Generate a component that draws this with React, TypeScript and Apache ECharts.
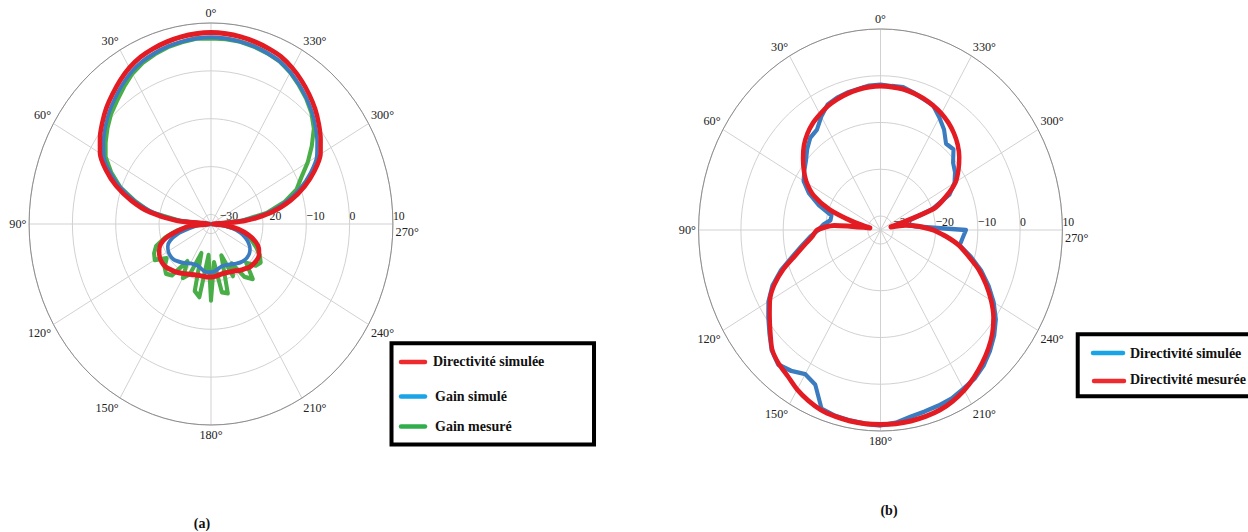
import React, { useEffect, useRef } from 'react';
import * as echarts from 'echarts';

// horizontal squeeze of the (elliptical) polar plots
const S = 0.905;
const W = 1248;
const H = 532;
const FONT = "'Liberation Serif', 'Times New Roman', serif";

// angles in degrees (0 = top, counter-clockwise)
const ANGLES = [
  0, 5, 10, 15, 20, 25, 30, 35, 40, 45, 50, 55, 60, 65, 70, 75, 80, 85,
  90, 95, 100, 105, 110, 115, 120, 125, 130, 135, 140, 145, 150, 155, 160, 165, 170, 175,
  180, 185, 190, 195, 200, 205, 210, 215, 220, 225, 230, 235, 240, 245, 250, 255, 260, 265,
  270, 275, 280, 285, 290, 295, 300, 305, 310, 315, 320, 325, 330, 335, 340, 345, 350, 355,
];

// (a) Directivité simulée
const A_DIR_SIM = [
  8.0, 7.9, 7.7, 7.4, 7.0, 6.5, 5.7, 4.6, 3.4, 2.2, 0.8, -0.7, -2.4, -5.2, -8.7, -12.9, -17.6, -24.0,
  -31.5, -27.0, -24.5, -21.5, -19.6, -18.8, -18.3, -18.1, -18.2, -18.6, -19.0, -19.5, -20.0, -20.4, -20.7, -20.9, -20.9, -20.9,
  -20.9, -21.0, -21.2, -21.3, -21.2, -21.0, -20.7, -20.2, -19.8, -19.3, -19.1, -19.0, -19.2, -19.8, -21.0, -23.0, -25.5, -28.5,
  -31.5, -24.0, -17.8, -13.0, -9.0, -5.6, -2.8, -1.1, 0.5, 2.0, 3.3, 4.5, 5.6, 6.5, 7.0, 7.4, 7.7, 7.9,
];
// (a) Gain simulé
const A_GAIN_SIM = [
  7.0, 6.9, 6.7, 6.4, 6.0, 5.5, 4.7, 3.6, 2.4, 1.2, -0.2, -1.7, -3.4, -6.2, -9.7, -13.9, -18.8, -25.5,
  -32.0, -29.0, -27.0, -24.0, -22.0, -21.0, -20.6, -20.5, -20.6, -21.0, -21.5, -22.0, -22.5, -22.7, -22.8, -22.5, -22.1, -21.9,
  -21.9, -22.1, -22.5, -22.8, -22.8, -22.6, -22.3, -21.9, -21.5, -21.2, -21.1, -21.2, -21.6, -22.4, -23.5, -25.0, -27.0, -30.0,
  -32.0, -25.5, -18.8, -14.0, -10.0, -6.6, -3.8, -2.1, -0.5, 1.0, 2.3, 3.5, 4.6, 5.5, 6.0, 6.4, 6.7, 6.9,
];
// (a) Gain mesuré
const A_GAIN_MES = [
  6.8, 6.9, 6.6, 6.3, 5.8, 5.2, 4.3, 3.0, 1.7, 0.6, -0.8, -2.3, -3.9, -6.6, -9.8, -14.0, -17.8, -25.0,
  -30.5, -27.5, -24.0, -21.0, -18.5, -17.5, -17.0, -19.5, -18.0, -17.3, -18.0, -22.5, -19.0, -20.5, -25.5, -17.5, -16.5, -25.5,
  -16.0, -24.0, -17.5, -17.0, -25.0, -20.0, -22.5, -18.5, -17.0, -20.5, -18.5, -18.0, -19.0, -20.5, -22.0, -23.5, -26.0, -29.0,
  -31.0, -25.0, -19.0, -14.5, -11.0, -9.0, -6.2, -3.6, -1.0, 0.8, 2.2, 3.4, 4.6, 5.5, 6.0, 6.4, 6.7, 6.8,
];
// (b) Directivité simulée
const B_DIR_SIM = [
  -1.9, -2.0, -2.4, -2.6, -2.9, -3.4, -5.0, -6.8, -7.2, -8.5, -10.0, -11.0, -12.0, -14.3, -17.5, -21.0, -21.0, -19.5,
  -18.3, -16.3, -14.2, -11.6, -8.0, -4.8, -2.4, -0.6, 1.3, 3.4, 4.6, 3.8, 2.6, 3.5, 7.7, 8.2, 8.4, 8.6,
  8.8, 8.4, 7.6, 7.2, 7.0, 6.8, 6.2, 5.8, 4.9, 3.6, 2.1, 0.3, -2.1, -4.8, -7.7, -10.9, -14.0, -13.5,
  -12.8, -24.5, -26.5, -27.5, -20.0, -15.0, -12.8, -11.5, -10.6, -8.6, -8.9, -6.8, -5.2, -3.6, -3.2, -2.6, -2.0, -2.1,
];
// (b) Directivité mesurée
const B_DIR_MES = [
  -2.2, -2.3, -2.5, -2.8, -3.2, -3.7, -4.4, -5.1, -6.1, -7.4, -9.1, -10.9, -12.9, -15.6, -20.2, -26.5, -30.5, -22.0,
  -18.0, -16.8, -14.8, -12.2, -8.6, -5.3, -2.8, -1.0, 1.0, 3.2, 4.4, 5.2, 6.4, 7.3, 8.0, 8.3, 8.5, 8.6,
  8.6, 8.6, 8.5, 8.3, 8.0, 7.4, 6.6, 5.5, 4.3, 3.0, 1.5, -0.4, -2.8, -5.5, -8.3, -11.5, -14.2, -17.5,
  -20.5, -24.0, -27.0, -30.5, -19.5, -15.8, -12.5, -10.5, -8.7, -7.2, -6.0, -5.0, -4.2, -3.6, -3.1, -2.7, -2.4, -2.3,
];

const ANGLE_MIN = 270;
const ANGLE_MAX = 630;
const ANGLE_STEP = 30;
const R_MIN_A = -32;
const R_MIN_B = -33;
const R_MAX = 10;

const LEGEND_A = ['Directivité simulée', 'Gain simulé', 'Gain mesuré'];
const LEGEND_B = ['Directivité simulée', 'Directivité mesurée'];
const CAPTIONS = ['(a)', '(b)'];

const RED = '#e31b23';
const BLUE = '#3b7bbf';
const GREEN = '#4aae48';
const LEG_RED = '#ee2a2e';
const LEG_BLUE = '#18a4e6';
const LEG_GREEN = '#2fae4b';

function toPolar(vals: number[]) {
  const pts = ANGLES.map((a, i) => [vals[i], a >= 270 ? a : a + 360]);
  pts.sort((p, q) => p[1] - q[1]);
  pts.push([pts[0][0], pts[0][1] + 360]);
  return pts;
}

function angleAxis(idx: number) {
  return {
    polarIndex: idx,
    type: 'value',
    min: ANGLE_MIN,
    max: ANGLE_MAX,
    interval: ANGLE_STEP,
    startAngle: 0,
    clockwise: false,
    axisLine: { show: true, lineStyle: { color: '#8a8a8a', width: 1 } },
    axisTick: { show: false },
    splitLine: { show: true, lineStyle: { color: '#cfcfcf', width: 1 } },
    axisLabel: {
      margin: 3,
      color: '#222',
      fontFamily: FONT,
      fontSize: 13.5,
      formatter: (v: number) => {
        const d = Math.round(v) % 360;
        return d === 270 ? `{low|${d}°}` : `${d}°`;
      },
      rich: {
        low: { padding: [15, 0, 0, 0], fontFamily: FONT, fontSize: 13.5, color: '#222' },
      },
    },
  };
}

function radiusAxis(idx: number, min: number) {
  return {
    polarIndex: idx,
    type: 'value',
    min,
    max: R_MAX,
    splitNumber: 4,
    axisLine: { show: false },
    axisTick: { show: false },
    splitLine: { show: true, lineStyle: { color: '#cfcfcf', width: 1 } },
    axisLabel: {
      margin: 2,
      align: 'left',
      color: '#222',
      fontFamily: FONT,
      fontSize: 13,
      formatter: (v: number) => (v % 10 === 0 ? String(v).replace('-', '\u2212') : ''),
    },
  };
}

function line(idx: number, vals: number[], color: string, width: number, z: number, smooth: number | boolean) {
  return {
    type: 'line',
    coordinateSystem: 'polar',
    polarIndex: idx,
    data: toPolar(vals),
    symbol: 'none',
    smooth,
    silent: true,
    z,
    lineStyle: { color, width, cap: 'round', join: 'round' },
  };
}

function legendText(x: number, y: number, text: string) {
  return {
    type: 'text',
    x,
    y,
    style: { text, fill: '#111', fontFamily: FONT, fontSize: 14, fontWeight: 'bold', verticalAlign: 'middle', align: 'left' },
  };
}
function legendLine(x1: number, x2: number, y: number, color: string) {
  return {
    type: 'line',
    shape: { x1, y1: y, x2, y2: y },
    style: { stroke: color, lineWidth: 4.5, lineCap: 'round' },
  };
}

export default function App() {
  const ref = useRef<HTMLDivElement>(null);
  useEffect(() => {
    if (!ref.current) return;
    const chart = echarts.init(ref.current, undefined, { renderer: 'svg' });
    chart.setOption({
      animation: false,
      backgroundColor: '#fff',
      polar: [
        { center: [211 / S, 224], radius: 201 },
        { center: [880.5 / S, 230], radius: 201 },
      ],
      angleAxis: [angleAxis(0), angleAxis(1)],
      radiusAxis: [radiusAxis(0, R_MIN_A), radiusAxis(1, R_MIN_B)],
      series: [
        line(0, A_GAIN_MES, GREEN, 4.5, 2, false),
        line(0, A_GAIN_SIM, BLUE, 4, 3, 0.25),
        line(0, A_DIR_SIM, RED, 5, 4, 0.25),
        line(1, B_DIR_SIM, BLUE, 4.5, 2, false),
        line(1, B_DIR_MES, RED, 5, 3, 0.25),
      ],
      graphic: [
        {
          type: 'group',
          x: 0,
          y: 0,
          scaleX: 1 / S,
          silent: true,
          children: [
            { type: 'rect', shape: { x: 391.5, y: 343.3, width: 202.5, height: 101.2 }, style: { fill: '#fff', stroke: '#000', lineWidth: 4 } },
            legendLine(401, 425, 362, LEG_RED),
            legendLine(401, 425, 396.5, LEG_BLUE),
            legendLine(401, 425, 426.5, LEG_GREEN),
            legendText(433, 362, LEGEND_A[0]),
            legendText(435, 396.5, LEGEND_A[1]),
            legendText(435, 426.5, LEGEND_A[2]),
            { type: 'rect', shape: { x: 1077.7, y: 334.3, width: 220, height: 62 }, style: { fill: '#fff', stroke: '#000', lineWidth: 4 } },
            legendLine(1093, 1123, 353, LEG_BLUE),
            legendLine(1094, 1124, 381, LEG_RED),
            legendText(1130, 353.5, LEGEND_B[0]),
            legendText(1130, 380, LEGEND_B[1]),
            {
              type: 'text', x: 202, y: 524,
              style: { text: CAPTIONS[0], fill: '#111', fontFamily: FONT, fontSize: 14, fontWeight: 'bold', align: 'center', verticalAlign: 'middle' },
            },
            {
              type: 'text', x: 889, y: 511,
              style: { text: CAPTIONS[1], fill: '#111', fontFamily: FONT, fontSize: 14, fontWeight: 'bold', align: 'center', verticalAlign: 'middle' },
            },
          ],
        },
      ],
    });
    return () => chart.dispose();
  }, []);

  return (
    <div style={{ position: 'fixed', left: 0, top: 0, width: W, height: H, overflow: 'hidden', background: '#fff' }}>
      <div
        ref={ref}
        style={{ width: W / S, height: H, transform: `scaleX(${S})`, transformOrigin: '0 0' }}
      />
    </div>
  );
}
